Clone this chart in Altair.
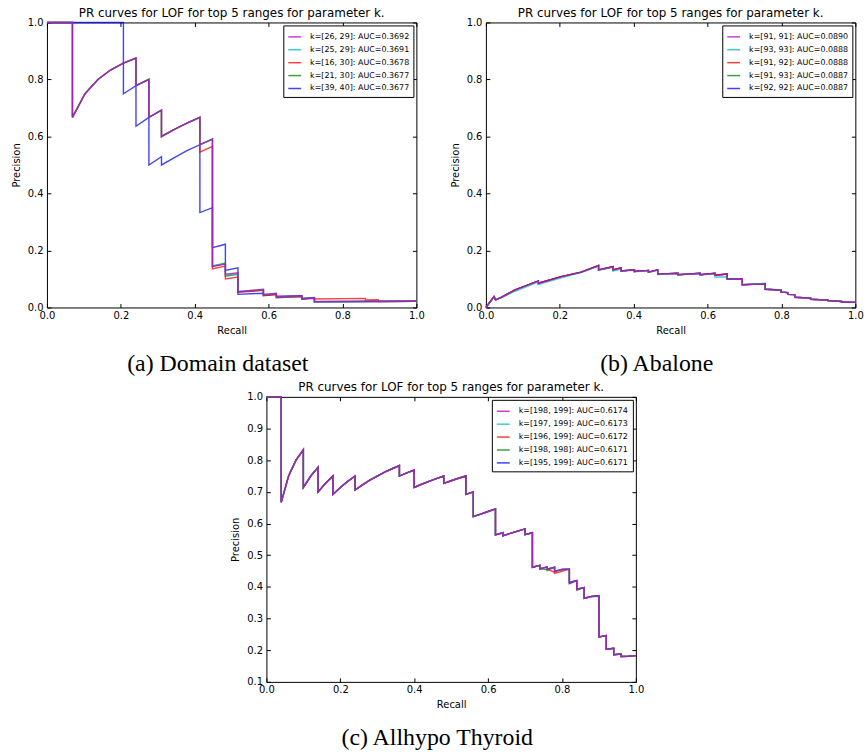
import altair as alt
import pandas as pd

TITLE = "PR curves for LOF for top 5 ranges for parameter k."
COLORS = ["#bf00bf", "#00bfbf", "#ff0000", "#008000", "#0000ff"]
DRAW_ORDER = [4, 3, 2, 1, 0]  # blue drawn first, magenta on top
X_TICKS = [0.0, 0.2, 0.4, 0.6, 0.8, 1.0]
Y_TICKS_AB = [0.0, 0.2, 0.4, 0.6, 0.8, 1.0]
Y_TICKS_C = [0.1, 0.2, 0.3, 0.4, 0.5, 0.6, 0.7, 0.8, 0.9, 1.0]

# ---------------- (a) Domain dataset ----------------
A_LABELS = ["k=[26, 29]: AUC=0.3692", "k=[25, 29]: AUC=0.3691", "k=[16, 30]: AUC=0.3678",
            "k=[21, 30]: AUC=0.3677", "k=[39, 40]: AUC=0.3677"]
A_TOP_R = [0, 0.069, 0.069, 0.103, 0.138, 0.172, 0.207, 0.241, 0.241, 0.276, 0.276, 0.310, 0.310, 0.345, 0.379, 0.414]
A_TOP_P = [1.0, 1.0, 0.667, 0.75, 0.8, 0.833, 0.857, 0.875, 0.778, 0.8, 0.667, 0.692, 0.6, 0.625, 0.647, 0.667]
A_TAIL_R = [0.414, 0.448, 0.448, 0.483, 0.483, 0.517, 0.517, 0.586, 0.586, 0.621, 0.621, 0.69, 0.69, 0.724, 0.724, 1.0]
A_MAG_TAIL_P = [0.571, 0.591, 0.143, 0.152, 0.117, 0.122, 0.055, 0.064, 0.046, 0.05, 0.037, 0.041, 0.031, 0.034, 0.02, 0.022]
A_CYA_TAIL_P = [0.571, 0.591, 0.145, 0.153, 0.113, 0.118, 0.056, 0.063, 0.045, 0.049, 0.036, 0.04, 0.031, 0.034, 0.02, 0.022]
A_GRN_TAIL_P = [0.571, 0.591, 0.146, 0.156, 0.11, 0.116, 0.054, 0.061, 0.043, 0.047, 0.034, 0.038, 0.032, 0.035, 0.021, 0.022]
A_RED_TAIL_R = [0.414, 0.448, 0.448, 0.483, 0.483, 0.517, 0.517, 0.586, 0.586, 0.621, 0.621, 0.69, 0.69,
                0.724, 0.724, 0.862, 0.862, 0.897, 0.897, 1.0]
A_RED_TAIL_P = [0.545, 0.565, 0.135, 0.145, 0.1, 0.107, 0.053, 0.06, 0.041, 0.045, 0.035, 0.038, 0.031,
                0.034, 0.03, 0.032, 0.026, 0.027, 0.021, 0.022]
A_BLUE_R = [0, 0.207, 0.207, 0.241, 0.241, 0.276, 0.276, 0.310, 0.310, 0.345, 0.379, 0.414, 0.414, 0.448,
            0.448, 0.483, 0.483, 0.517, 0.517, 0.586, 0.586, 0.621, 0.621, 0.69, 0.69, 0.724, 0.724, 1.0]
A_BLUE_P = [1.0, 1.0, 0.75, 0.778, 0.636, 0.667, 0.5, 0.529, 0.5, 0.526, 0.55, 0.571, 0.333, 0.35,
            0.21, 0.222, 0.13, 0.139, 0.046, 0.05, 0.042, 0.046, 0.04, 0.041, 0.029, 0.032, 0.02, 0.022]

# ---------------- (b) Abalone ----------------
B_LABELS = ["k=[91, 91]: AUC=0.0890", "k=[93, 93]: AUC=0.0888", "k=[91, 92]: AUC=0.0888",
            "k=[91, 93]: AUC=0.0887", "k=[92, 92]: AUC=0.0887"]
B_R = [0, 0.022, 0.026, 0.043, 0.079, 0.142, 0.142, 0.204, 0.258, 0.305, 0.305, 0.344, 0.344, 0.366,
       0.366, 0.402, 0.402, 0.44, 0.44, 0.465, 0.465, 0.52, 0.52, 0.58, 0.58, 0.62, 0.62, 0.653, 0.653,
       0.694, 0.694, 0.756, 0.756, 0.799, 0.799, 0.817, 0.817, 0.836, 0.836, 0.879, 0.879, 0.926, 0.926,
       0.963, 0.963, 1.0]
B_P = [0, 0.038, 0.027, 0.036, 0.062, 0.093, 0.085, 0.108, 0.124, 0.147, 0.132, 0.143, 0.132, 0.139,
       0.128, 0.132, 0.126, 0.13, 0.124, 0.132, 0.117, 0.12, 0.115, 0.12, 0.115, 0.12, 0.113, 0.117, 0.1,
       0.101, 0.08, 0.083, 0.064, 0.061, 0.054, 0.052, 0.046, 0.045, 0.036, 0.033, 0.029, 0.026, 0.024,
       0.021, 0.019, 0.018]
B_P_CYAN = [0, 0.036, 0.027, 0.035, 0.057, 0.09, 0.08, 0.104, 0.122, 0.145, 0.131, 0.141, 0.128, 0.135,
            0.127, 0.131, 0.125, 0.129, 0.123, 0.13, 0.116, 0.119, 0.115, 0.119, 0.114, 0.118, 0.106,
            0.108, 0.1, 0.101, 0.08, 0.085, 0.066, 0.062, 0.055, 0.052, 0.046, 0.045, 0.036, 0.033,
            0.029, 0.026, 0.024, 0.021, 0.019, 0.018]

# ---------------- (c) Allhypo Thyroid ----------------
C_LABELS = ["k=[198, 199]: AUC=0.6174", "k=[197, 199]: AUC=0.6173", "k=[196, 199]: AUC=0.6172",
            "k=[198, 198]: AUC=0.6171", "k=[195, 199]: AUC=0.6171"]
C_R = [0, 0.04, 0.04, 0.06, 0.08, 0.10, 0.10, 0.12, 0.14, 0.14, 0.16, 0.18, 0.18, 0.20, 0.22, 0.24, 0.24,
       0.26, 0.28, 0.30, 0.32, 0.34, 0.36, 0.36, 0.38, 0.40, 0.40, 0.42, 0.44, 0.46, 0.48, 0.48, 0.50, 0.52,
       0.54, 0.54, 0.56, 0.56, 0.58, 0.60, 0.62, 0.62, 0.64, 0.64, 0.66, 0.68, 0.70, 0.70, 0.72, 0.72, 0.74,
       0.74, 0.76, 0.76, 0.78, 0.78, 0.80, 0.82, 0.82, 0.84, 0.84, 0.86, 0.86, 0.88, 0.90, 0.90, 0.92, 0.92,
       0.94, 0.94, 0.96, 0.96, 0.98, 1.00]
C_P = [1.0, 1.0, 0.667, 0.75, 0.8, 0.833, 0.714, 0.75, 0.778, 0.7, 0.727, 0.75, 0.692, 0.714, 0.733, 0.75,
       0.706, 0.722, 0.737, 0.75, 0.762, 0.773, 0.783, 0.75, 0.76, 0.769, 0.714, 0.724, 0.733, 0.742, 0.75,
       0.727, 0.735, 0.743, 0.75, 0.692, 0.7, 0.622, 0.63, 0.638, 0.646, 0.564, 0.571, 0.561, 0.569, 0.576,
       0.583, 0.565, 0.571, 0.462, 0.468, 0.457, 0.463, 0.456, 0.462, 0.449, 0.455, 0.456, 0.414, 0.42,
       0.393, 0.398, 0.364, 0.37, 0.372, 0.242, 0.246, 0.203, 0.206, 0.186, 0.188, 0.18, 0.181, 0.183]
# small local differences (point index -> precision)
C_FIX_CYAN = {63: 0.368, 64: 0.37}
C_FIX_RED = {54: 0.446, 55: 0.443, 56: 0.449}
C_FIX_GREEN = {52: 0.455, 53: 0.451, 60: 0.389}
C_FIX_BLUE = {58: 0.41}

AX = dict(labelFont="DejaVu Sans", labelFontSize=10, labelColor="black", titleFont="DejaVu Sans",
          titleFontSize=10, titleFontWeight="normal", titleColor="black", grid=False, domain=False,
          ticks=False, labelFlush=False, labelOverlap=False)


def pairs(rs, ps):
    return list(zip(rs, ps))


def fixed(ps, fix):
    return [fix.get(i, v) for i, v in enumerate(ps)]


def tick_axis(orient, values):
    return alt.Axis(orient=orient, values=values, labels=False, domain=False, grid=False, ticks=True,
                    tickSize=4, offset=-4, tickColor="black", tickWidth=1, title=None,
                    minExtent=0, maxExtent=0)


def make_panel(labels, curves, y_domain, y_ticks, caption):
    rows = []
    for s in DRAW_ORDER:
        for j, (r, p) in enumerate(curves[s]):
            rows.append({"recall": r, "precision": p, "series": labels[s], "idx": j})
    df = pd.DataFrame(rows)
    xs = alt.Scale(domain=[0, 1], nice=False, zero=False)
    ys = alt.Scale(domain=y_domain, nice=False, zero=False)
    base = alt.Chart(df)
    legend = alt.Legend(title=None, orient="top-right", offset=3, strokeColor="black", fillColor="white",
                        padding=4, symbolType="stroke", symbolStrokeWidth=1.5, symbolSize=169,
                        labelFont="DejaVu Sans", labelFontSize=8, labelColor="black", rowPadding=1,
                        labelOffset=8, cornerRadius=0)
    lines = base.mark_line(strokeWidth=1.4, opacity=0.75).encode(
        x=alt.X("recall:Q", scale=xs,
                axis=alt.Axis(orient="bottom", values=X_TICKS, format=".1f", title="Recall",
                              labelPadding=3, titlePadding=5, **AX)),
        y=alt.Y("precision:Q", scale=ys,
                axis=alt.Axis(orient="left", values=y_ticks, format=".1f", title="Precision",
                              labelPadding=4, titlePadding=6, **AX)),
        color=alt.Color("series:N", scale=alt.Scale(domain=labels, range=COLORS), legend=legend),
        order=alt.Order("idx:Q"),
    )
    t1 = base.mark_line(opacity=0).encode(
        x=alt.X("recall:Q", scale=xs, axis=tick_axis("bottom", X_TICKS)),
        y=alt.Y("precision:Q", scale=ys, axis=tick_axis("left", y_ticks)),
        detail="series:N", order=alt.Order("idx:Q"))
    t2 = base.mark_line(opacity=0).encode(
        x=alt.X("recall:Q", scale=xs, axis=tick_axis("top", X_TICKS)),
        y=alt.Y("precision:Q", scale=ys, axis=tick_axis("right", y_ticks)),
        detail="series:N", order=alt.Order("idx:Q"))
    panel = alt.layer(lines, t1, t2).resolve_axis(x="independent", y="independent").properties(
        width=372, height=287,
        title=alt.TitleParams(TITLE, font="DejaVu Sans", fontSize=12, fontWeight="normal", color="black",
                              offset=-2, anchor="middle"),
        view=alt.ViewBackground(stroke="black", strokeWidth=1),
    )
    return alt.vconcat(panel, title=alt.TitleParams(
        caption, orient="bottom", font="Liberation Serif", fontSize=24, fontWeight="normal",
        color="black", offset=16, anchor="middle")).resolve_scale(color="independent")


a_top = pairs(A_TOP_R, A_TOP_P)
curves_a = [
    a_top + pairs(A_TAIL_R, A_MAG_TAIL_P),
    a_top + pairs(A_TAIL_R, A_CYA_TAIL_P),
    a_top + pairs(A_RED_TAIL_R, A_RED_TAIL_P),
    a_top + pairs(A_TAIL_R, A_GRN_TAIL_P),
    pairs(A_BLUE_R, A_BLUE_P),
]
curves_b = [pairs(B_R, B_P), pairs(B_R, B_P_CYAN), pairs(B_R, B_P), pairs(B_R, B_P), pairs(B_R, B_P)]
curves_c = [
    pairs(C_R, C_P),
    pairs(C_R, fixed(C_P, C_FIX_CYAN)),
    pairs(C_R, fixed(C_P, C_FIX_RED)),
    pairs(C_R, fixed(C_P, C_FIX_GREEN)),
    pairs(C_R, fixed(C_P, C_FIX_BLUE)),
]

pa = make_panel(A_LABELS, curves_a, [0, 1], Y_TICKS_AB, "(a) Domain dataset")
pb = make_panel(B_LABELS, curves_b, [0, 1], Y_TICKS_AB, "(b) Abalone")
pc = make_panel(C_LABELS, curves_c, [0.1, 1], Y_TICKS_C, "(c) Allhypo Thyroid")

row1 = alt.hconcat(pa, pb, spacing=24).resolve_scale(color="independent", x="independent", y="independent")
chart = alt.vconcat(row1, pc, spacing=4, center=True).resolve_scale(
    color="independent", x="independent", y="independent"
).properties(
    padding={"left": 10, "top": 3, "right": 0, "bottom": 0}, background="white"
).configure_view(strokeWidth=0)

chart.save("out.html", embed_options={"renderer": "svg", "actions": False})
